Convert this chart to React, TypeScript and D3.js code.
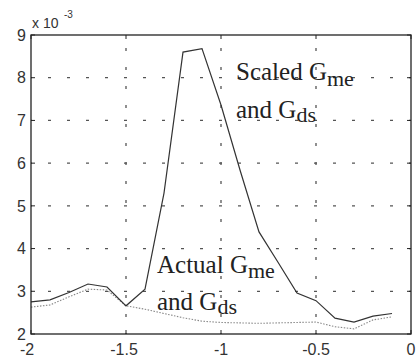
import React from 'react';
import * as d3 from 'd3';

const xs = [-2, -1.9, -1.8, -1.7, -1.6, -1.5, -1.4, -1.3, -1.2, -1.1, -1.0, -0.9, -0.8, -0.7, -0.6, -0.5, -0.4, -0.3, -0.2, -0.1];
const scaled = [2.75, 2.8, 2.97, 3.17, 3.1, 2.66, 3.05, 5.3, 8.6, 8.68, 7.36, 5.84, 4.39, 3.68, 2.96, 2.78, 2.37, 2.28, 2.42, 2.48];
const actual = [2.63, 2.68, 2.87, 3.05, 3.03, 2.66, 2.58, 2.48, 2.38, 2.3, 2.27, 2.26, 2.25, 2.26, 2.27, 2.28, 2.17, 2.12, 2.33, 2.4];
const xTicks = [-2, -1.5, -1, -0.5, 0];
const yTicks = [2, 3, 4, 5, 6, 7, 8, 9];

const W = 416;
const H = 363;
const margin = { top: 35, right: 5, bottom: 29, left: 31 };

const App: React.FC = () => {
  const x = d3.scaleLinear().domain([-2, 0]).range([margin.left, W - margin.right]);
  const y = d3.scaleLinear().domain([2, 9]).range([H - margin.bottom, margin.top]);
  const line = d3.line<number>().x((_, i) => x(xs[i])).y(d => y(d));

  const x0 = x.range()[0], x1 = x.range()[1];
  const y0 = y.range()[0], y1 = y.range()[1];
  const serif = '"Liberation Serif", "Times New Roman", serif';
  const sans = '"Liberation Sans", Arial, sans-serif';

  return (
    <svg width={W} height={H} style={{ position: 'absolute', left: 0, top: 0, background: '#fff' }}>
      {/* grid */}
      <g stroke="#555" strokeWidth={1.3} strokeDasharray="3,16" strokeDashoffset={2}>
        {yTicks.slice(1, -1).map(t => (
          <line key={'gy' + t} x1={x0} x2={x1} y1={y(t)} y2={y(t)} />
        ))}
        {xTicks.slice(1, -1).map(t => (
          <line key={'gx' + t} x1={x(t)} x2={x(t)} y1={y0} y2={y1} />
        ))}
      </g>

      {/* series */}
      <path d={line(actual) || ''} fill="none" stroke="#888" strokeWidth={1.1} strokeDasharray="1.5,1.5" />
      <path d={line(scaled) || ''} fill="none" stroke="#333" strokeWidth={1.2} />

      {/* frame and ticks */}
      <rect x={x0} y={y1} width={x1 - x0} height={y0 - y1} fill="none" stroke="#222" strokeWidth={1.3} />
      <g stroke="#222" strokeWidth={1}>
        {yTicks.map(t => (
          <g key={'ty' + t}>
            <line x1={x0} x2={x0 + 4} y1={y(t)} y2={y(t)} />
            <line x1={x1} x2={x1 - 4} y1={y(t)} y2={y(t)} />
          </g>
        ))}
        {xTicks.map(t => (
          <g key={'tx' + t}>
            <line x1={x(t)} x2={x(t)} y1={y0} y2={y0 - 4} />
            <line x1={x(t)} x2={x(t)} y1={y1} y2={y1 + 4} />
          </g>
        ))}
      </g>

      {/* tick labels */}
      <g fontFamily={sans} fontSize={16} fill="#333">
        {yTicks.map(t => (
          <text key={'ly' + t} x={x0 - 5} y={y(t)} dy="0.36em" textAnchor="end">{t}</text>
        ))}
        {xTicks.map(t => (
          <text key={'lx' + t} x={x(t) - (t === -2 ? 4 : t === -1.5 ? 2 : 0)} y={355} textAnchor="middle">{t}</text>
        ))}
        <text x={32} y={28} fontSize={14}>x 10</text>
        <text x={64} y={18} fontSize={10}>-3</text>
      </g>

      {/* annotations */}
      <g fontFamily={serif} fontSize={25} fill="#222">
        <text x={236} y={80}>Scaled G<tspan fontSize={22} dy={6}>me</tspan></text>
        <text x={236} y={118}>and G<tspan fontSize={22} dy={4}>ds</tspan></text>
        <text x={157} y={273}>Actual G<tspan fontSize={22} dy={5}>me</tspan></text>
        <text x={157} y={310}>and G<tspan fontSize={22} dy={4}>ds</tspan></text>
      </g>
    </svg>
  );
};

export default App;
